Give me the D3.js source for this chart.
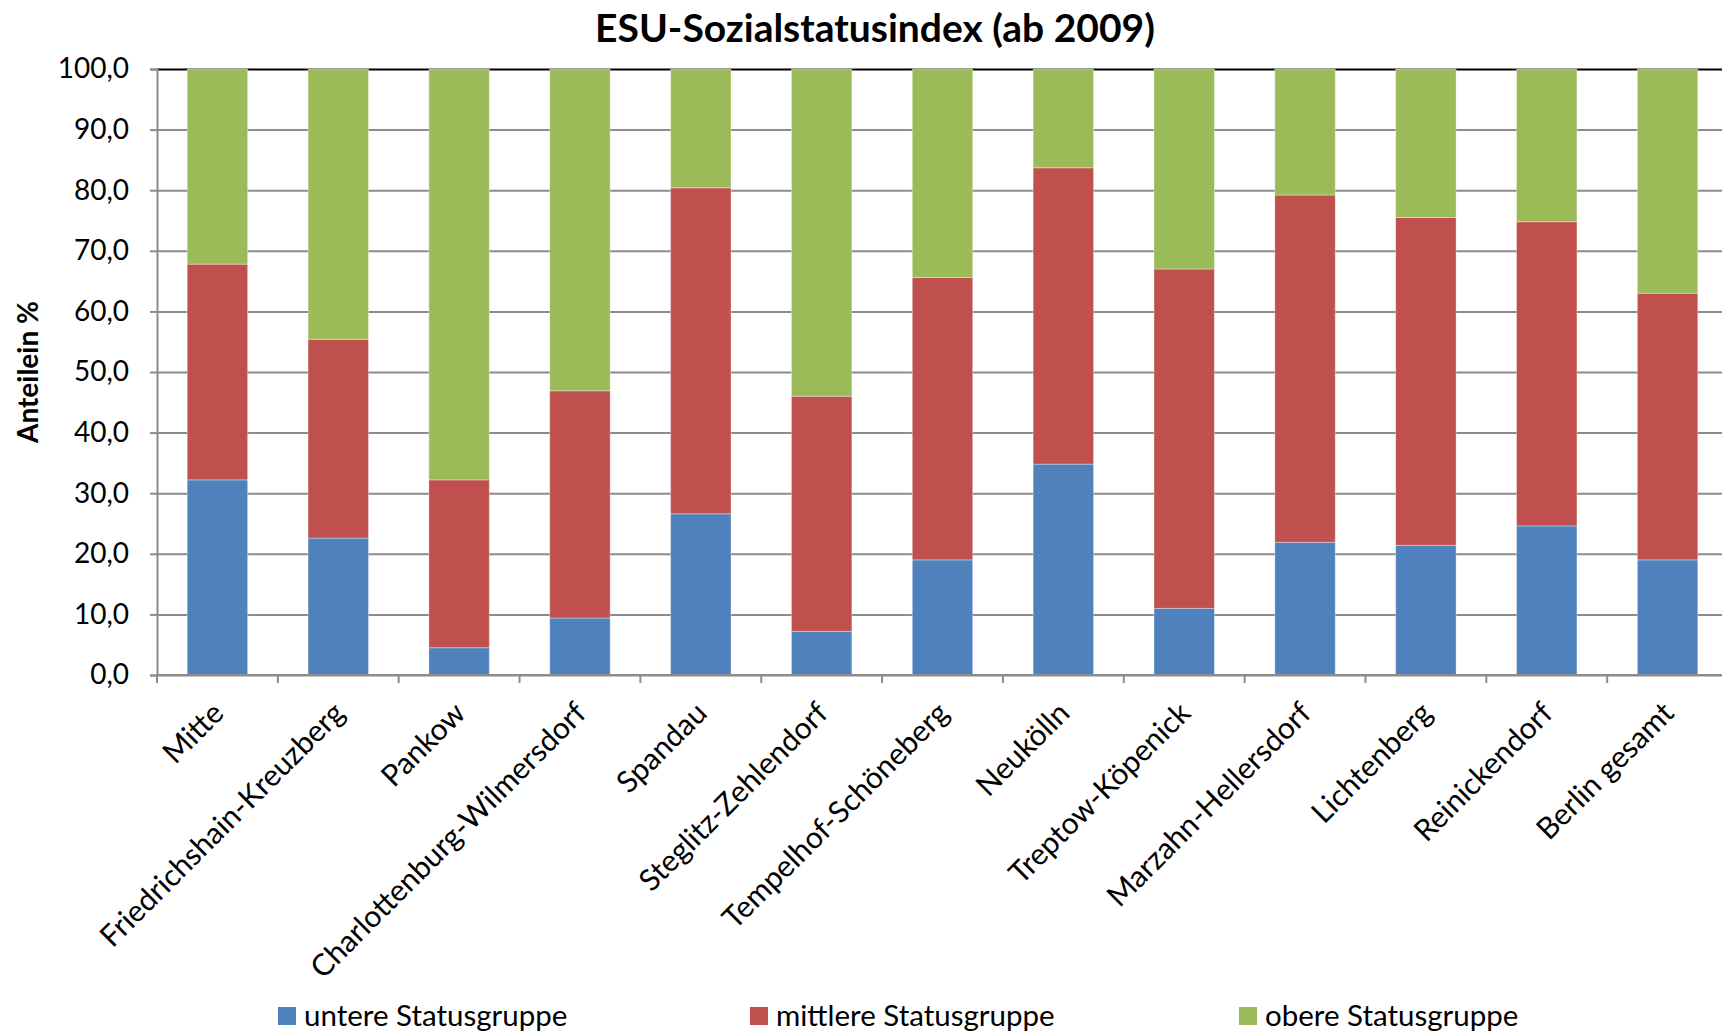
<!DOCTYPE html>
<html lang="de">
<head>
<meta charset="UTF-8">
<title>ESU-Sozialstatusindex</title>
<script src="https://cdnjs.cloudflare.com/ajax/libs/d3/7.8.5/d3.min.js"></script>
<style>
  body { margin: 0; background: #fff; }
  svg { display: block; font-family: Lato, "Open Sans", sans-serif; }
</style>
</head>
<body>
<svg id="chart" width="1722" height="1033"></svg>
<script>
const bezirke = ['Mitte', 'Friedrichshain-Kreuzberg', 'Pankow', 'Charlottenburg-Wilmersdorf',
  'Spandau', 'Steglitz-Zehlendorf', 'Tempelhof-Schöneberg', 'Neukölln', 'Treptow-Köpenick',
  'Marzahn-Hellersdorf', 'Lichtenberg', 'Reinickendorf', 'Berlin gesamt'];
const untere   = [32.2, 22.6, 4.5, 9.4, 26.6, 7.2, 19.0, 34.8, 11.0, 21.9, 21.4, 24.6, 19.0];
const mittlere = [35.6, 32.8, 27.7, 37.5, 53.8, 38.8, 46.6, 48.9, 56.0, 57.3, 54.1, 50.2, 44.0];
const obere    = [32.2, 44.6, 67.8, 53.1, 19.6, 54.0, 34.4, 16.3, 33.0, 20.8, 24.5, 25.2, 37.0];
const seriesNames = ['untere Statusgruppe', 'mittlere Statusgruppe', 'obere Statusgruppe'];
const colors = ['#4f81bd', '#c0504d', '#9bbb59'];
const yTicks = [0, 10, 20, 30, 40, 50, 60, 70, 80, 90, 100];

const svg = d3.select('#chart');
const margin = { top: 69, left: 157, bottom: 675 };
const plotRight = 1728;

const rows = bezirke.map((b, i) => ({ name: b, u: untere[i], m: mittlere[i], o: obere[i] }));
const stack = d3.stack().keys(['u', 'm', 'o'])(rows);

const x = d3.scaleBand().domain(bezirke).range([margin.left, plotRight]).paddingInner(0.5).paddingOuter(0.25);
const xb = d3.scaleBand().domain(bezirke).range([margin.left, plotRight]);
const y = d3.scaleLinear().domain([0, 100]).range([margin.bottom, margin.top]);
const fmt = d => d3.format('.1f')(d).replace('.', ',');

// gridlines
svg.append('g')
  .attr('transform', `translate(${margin.left},0)`)
  .call(d3.axisLeft(y).tickValues(yTicks).tickSize(-(plotRight - margin.left)).tickFormat(''))
  .call(g => g.select('.domain').remove())
  .call(g => g.selectAll('line').attr('stroke', '#8c8c8c').attr('stroke-width', 2))
  .call(g => g.selectAll('.tick').filter(d => d === 100).select('line').attr('stroke', '#000'));

// bars
svg.append('g').selectAll('g').data(stack).join('g')
  .attr('fill', (d, i) => colors[i])
  .selectAll('rect').data(d => d).join('rect')
  .attr('x', d => x(d.data.name))
  .attr('width', x.bandwidth())
  .attr('y', d => y(d[1]))
  .attr('height', d => y(d[0]) - y(d[1]))
  .attr('stroke', '#ffffff')
  .attr('stroke-opacity', 0.35)
  .attr('stroke-width', 1);

// y axis
svg.append('g')
  .attr('transform', `translate(${margin.left},0)`)
  .call(d3.axisLeft(y).tickValues(yTicks).tickSize(7).tickPadding(21).tickFormat(fmt))
  .call(g => g.select('.domain').attr('stroke', '#8c8c8c').attr('stroke-width', 2))
  .call(g => g.selectAll('line').attr('stroke', '#8c8c8c').attr('stroke-width', 2))
  .call(g => g.selectAll('text').attr('font-size', 28).attr('fill', '#000')
    .style('font-family', 'Lato, sans-serif'));

// x axis with ticks on band boundaries
const xAxisG = svg.append('g').attr('transform', `translate(0,${margin.bottom})`);
xAxisG.append('line')
  .attr('x1', margin.left).attr('x2', plotRight)
  .attr('stroke', '#8c8c8c').attr('stroke-width', 2);
xAxisG.selectAll('line.tk').data(bezirke).join('line')
  .attr('class', 'tk')
  .attr('x1', d => xb(d)).attr('x2', d => xb(d))
  .attr('y1', 0).attr('y2', 8)
  .attr('stroke', '#8c8c8c').attr('stroke-width', 2);
xAxisG.selectAll('text').data(bezirke).join('text')
  .attr('transform', d => `translate(${x(d) + x.bandwidth() / 2 + 8},40) rotate(-45)`)
  .attr('text-anchor', 'end')
  .attr('font-size', 30)
  .attr('fill', '#000')
  .text(d => d);

// title
svg.append('text')
  .attr('x', 875).attr('y', 42)
  .attr('text-anchor', 'middle')
  .attr('font-size', 39)
  .attr('font-weight', 'bold')
  .text('ESU-Sozialstatusindex (ab 2009)');

// y title
svg.append('text')
  .attr('transform', `translate(38,${(margin.top + margin.bottom) / 2}) rotate(-90)`)
  .attr('text-anchor', 'middle')
  .attr('font-size', 28)
  .attr('font-weight', 'bold')
  .text('Anteilein %');

// legend
const legendX = [278, 750, 1239];
const legend = svg.append('g').selectAll('g').data(seriesNames).join('g')
  .attr('transform', (d, i) => `translate(${legendX[i]},1016)`);
legend.append('rect')
  .attr('x', 0).attr('y', -9).attr('width', 18).attr('height', 18)
  .attr('fill', (d, i) => colors[i]);
legend.append('text')
  .attr('x', 26).attr('y', 10)
  .attr('font-size', 29.5)
  .text(d => d);
</script>
</body>
</html>
